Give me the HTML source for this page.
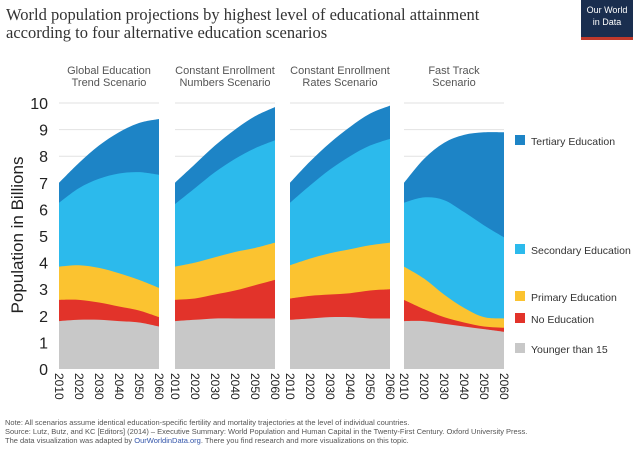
<!DOCTYPE html>
<html><head><meta charset="utf-8"><style>
body{margin:0;background:#fff;width:640px;height:448px;overflow:hidden;font-family:"Liberation Sans",sans-serif}
</style></head><body>
<svg id="c" width="640" height="448" xmlns="http://www.w3.org/2000/svg">
<text x="6" y="20" font-family="Liberation Serif,serif" font-size="16.5" fill="#333">World population projections by highest level of educational attainment</text>
<text x="6" y="38" font-family="Liberation Serif,serif" font-size="16.5" fill="#333">according to four alternative education scenarios</text>
<g><rect x="581" y="0" width="52" height="40" fill="#1a2e4f"/><rect x="581" y="37" width="52" height="3" fill="#c0392b"/>
<text x="607" y="13" font-size="9" fill="#fff" text-anchor="middle">Our World</text><text x="607" y="25" font-size="9" fill="#fff" text-anchor="middle">in Data</text></g>
<text transform="translate(23,235) rotate(-90)" font-size="17" fill="#222" text-anchor="middle">Population in Billions</text>
<g id="plot"></g>
<g font-size="7.5" fill="#555">
<text x="5" y="425">Note: All scenarios assume identical education-specific fertility and mortality trajectories at the level of individual countries.</text>
<text x="5" y="434">Source: Lutz, Butz, and KC [Editors] (2014) – Executive Summary: World Population and Human Capital in the Twenty-First Century. Oxford University Press.</text>
<text x="5" y="443">The data visualization was adapted by <tspan fill="#3355aa">OurWorldinData.org</tspan>. There you find research and more visualizations on this topic.</text>
</g>
</svg>
<script>
const years=[2010,2020,2030,2040,2050,2060];
const yTicks=[0,1,2,3,4,5,6,7,8,9,10];
const scenarios=["Global Education|Trend Scenario","Constant Enrollment|Numbers Scenario","Constant Enrollment|Rates Scenario","Fast Track|Scenario"];
const categories=["Younger than 15","No Education","Primary Education","Secondary Education","Tertiary Education"];
const colors=["#c8c8c8","#e2332a","#fbc330","#2cbaec","#1d84c6"];
// cumulative stacked tops per scenario, per category
const s1Young=[1.8,1.85,1.85,1.8,1.75,1.6];
const s1None=[2.6,2.6,2.5,2.35,2.2,1.95];
const s1Prim=[3.85,3.9,3.8,3.6,3.35,3.05];
const s1Sec=[6.25,6.8,7.15,7.35,7.4,7.3];
const s1Tert=[7.0,7.75,8.4,8.9,9.25,9.4];
const s2Young=[1.8,1.85,1.9,1.9,1.9,1.9];
const s2None=[2.6,2.65,2.8,2.95,3.15,3.35];
const s2Prim=[3.85,4.0,4.2,4.4,4.55,4.75];
const s2Sec=[6.2,6.8,7.4,7.9,8.3,8.6];
const s2Tert=[7.0,7.7,8.4,9.0,9.5,9.85];
const s3Young=[1.85,1.9,1.95,1.95,1.9,1.9];
const s3None=[2.65,2.75,2.8,2.85,2.95,3.0];
const s3Prim=[3.9,4.15,4.35,4.5,4.65,4.75];
const s3Sec=[6.25,6.9,7.5,8.0,8.4,8.65];
const s3Tert=[7.0,7.8,8.5,9.1,9.6,9.9];
const s4Young=[1.8,1.8,1.7,1.6,1.5,1.4];
const s4None=[2.6,2.25,1.95,1.75,1.6,1.55];
const s4Prim=[3.85,3.4,2.8,2.3,1.95,1.9];
const s4Sec=[6.25,6.45,6.35,5.9,5.4,4.95];
const s4Tert=[7.0,7.9,8.5,8.8,8.9,8.9];
const data=[[s1Young,s1None,s1Prim,s1Sec,s1Tert],[s2Young,s2None,s2Prim,s2Sec,s2Tert],[s3Young,s3None,s3Prim,s3Sec,s3Tert],[s4Young,s4None,s4Prim,s4Sec,s4Tert]];
const panelX=[59,175,290,404], panelW=100;
const NS="http://www.w3.org/2000/svg", g=document.getElementById('plot');
const y=v=>369-v*26.6;
function mk(t,a){const e=document.createElementNS(NS,t);for(const k in a)e.setAttribute(k,a[k]);g.appendChild(e);return e;}
function spline(pts){let d="";for(let i=0;i<pts.length-1;i++){const p0=pts[i-1]||pts[i],p1=pts[i],p2=pts[i+1],p3=pts[i+2]||p2;
const c1=[p1[0]+(p2[0]-p0[0])/6,p1[1]+(p2[1]-p0[1])/6],c2=[p2[0]-(p3[0]-p1[0])/6,p2[1]-(p3[1]-p1[1])/6];
d+=` C${c1[0]},${c1[1]} ${c2[0]},${c2[1]} ${p2[0]},${p2[1]}`;}return d;}
yTicks.forEach(t=>{const e=mk('text',{x:48,y:y(t)+6,'font-size':16,fill:'#222','text-anchor':'end'});e.textContent=t;

});
scenarios.forEach((s,si)=>{
 const x0=panelX[si],x=yr=>x0+(yr-2010)/50*panelW;
 [8,9,10].forEach(t=>{const l=mk('line',{x1:x0,x2:x0+panelW,y1:y(t),y2:y(t),stroke:'#e2e2e2','stroke-width':1});
 
 });
 const lines=s.split('|');lines.forEach((ln,i)=>{const e=mk('text',{x:x0+panelW/2,y:74+i*12,'font-size':11,fill:'#555','text-anchor':'middle'});e.textContent=ln;
 
 });
 for(let c=4;c>=0;c--){
  const top=data[si][c].map((v,i)=>[x(years[i]),y(v)]);
  const d=`M${x(2010)},${y(0)} L${top[0][0]},${top[0][1]}`+spline(top)+` L${x(2060)},${y(0)} Z`;
  const p=mk('path',{d:d,fill:colors[c]});
  
  
 }
 years.forEach(yr=>{const e=mk('text',{transform:`translate(${x(yr)-4},373) rotate(90)`,'font-size':12,fill:'#222'});e.textContent=yr;
 
 });
});
const legY=[141,250,297,319,349];
[4,3,2,1,0].forEach((c,i)=>{const r=mk('rect',{x:515,y:legY[i]-6,width:10,height:10,fill:colors[c]});


const t=mk('text',{x:531,y:legY[i]+4,'font-size':10.5,fill:'#333'});t.textContent=categories[c];

});
</script>
</body></html>
